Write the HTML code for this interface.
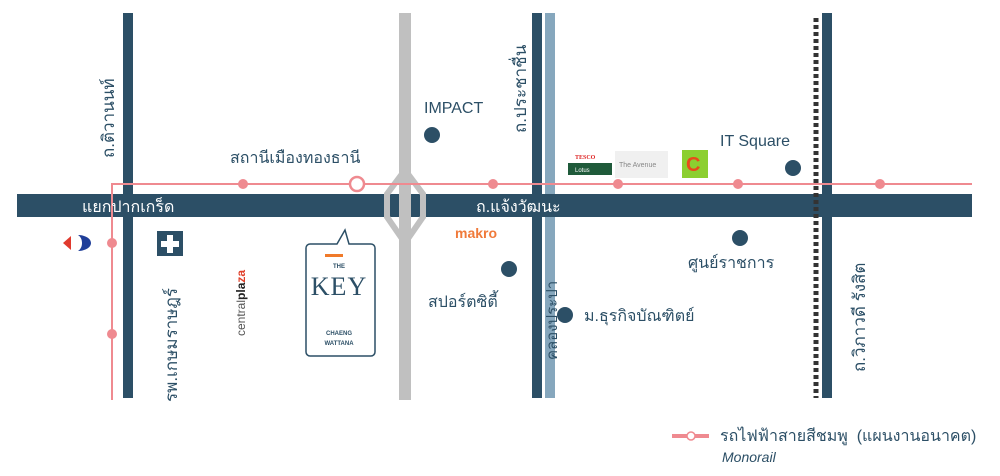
<!DOCTYPE html>
<html><head><meta charset="utf-8"><style>
body{margin:0;width:1000px;height:476px;background:#fff;overflow:hidden;position:relative;font-family:"Liberation Sans","Noto Sans CJK SC",sans-serif;color:#2c4f66}
.a{position:absolute}
.rot{position:absolute;transform:rotate(-90deg);transform-origin:left top;white-space:nowrap}
</style></head><body>
<svg class="a" style="left:0;top:0" width="1000" height="476">
<rect x="123" y="13" width="10" height="385" fill="#2c4f66"/>
<rect x="532" y="13" width="10" height="385" fill="#2c4f66"/>
<rect x="545" y="13" width="10" height="385" fill="#86a7bd"/>
<rect x="822" y="13" width="10" height="385" fill="#2c4f66"/>
<rect x="17" y="194" width="955" height="23" fill="#2c4f66"/>
<polygon points="405,170 423,194 423,217 405,243 387,217 387,194" fill="none" stroke="#c0c0c0" stroke-width="6"/>
<rect x="399" y="13" width="12" height="387" fill="#c0c0c0"/>
<line x1="816" y1="18" x2="816" y2="398" stroke="#333" stroke-width="5" stroke-dasharray="4,3"/>
<polyline points="112,400 112,184 972,184" fill="none" stroke="#ef8a90" stroke-width="2"/>
<g fill="#ef8a90"><circle cx="243" cy="184" r="5"/><circle cx="493" cy="184" r="5"/><circle cx="618" cy="184" r="5"/><circle cx="738" cy="184" r="5"/><circle cx="880" cy="184" r="5"/><circle cx="112" cy="243" r="5"/><circle cx="112" cy="334" r="5"/></g>
<circle cx="357" cy="184" r="7" fill="#fff" stroke="#ef8a90" stroke-width="2.5"/>
<g fill="#2c4f66"><circle cx="432" cy="135" r="8"/><circle cx="793" cy="168" r="8"/><circle cx="740" cy="238" r="8"/><circle cx="509" cy="269" r="8"/><circle cx="565" cy="315" r="8"/></g>
<rect x="157" y="231" width="26" height="25" fill="#2c4f66"/>
<path d="M167 235h6v6h6v6h-6v6h-6v-6h-6v-6h6z" fill="#fff"/>
<path d="M71 236l-8 7 8 7z" fill="#e03a2e"/><path d="M78 235c6 0 13 3 13 8s-7 8-13 8c3-2 4-5 4-8s-1-6-4-8z" fill="#1f3e99"/>
<path d="M310 244h27l8-14 4 14h22a4 4 0 0 1 4 4v104a4 4 0 0 1-4 4h-61a4 4 0 0 1-4-4v-104a4 4 0 0 1 4-4z" fill="#fff" stroke="#2c4f66" stroke-width="1.5"/>
<rect x="325" y="254" width="18" height="3" fill="#f07a2a"/>
<rect x="568" y="153" width="42" height="23" fill="#fff"/>
<text x="575" y="159" font-size="6" fill="#d22" font-weight="bold" font-family="Liberation Serif">TESCO</text>
<rect x="568" y="163" width="44" height="12" fill="#1f5a3a"/>
<text x="575" y="172" font-size="6" fill="#fff">Lotus</text>
<rect x="615" y="151" width="53" height="27" fill="#f0f0f0"/>
<text x="619" y="167" font-size="7" fill="#888">The Avenue</text>
<rect x="682" y="150" width="26" height="28" fill="#8ccf30"/>
<text x="686" y="171" font-size="20" fill="#e84a1a" font-weight="bold">C</text>
<line x1="672" y1="436" x2="709" y2="436" stroke="#ef8a90" stroke-width="4"/>
<circle cx="691" cy="436" r="4" fill="#fff" stroke="#ef8a90" stroke-width="1.5"/>
</svg>
<div class="a" style="left:309px;top:264px;width:60px;text-align:center;font-size:6px;font-weight:bold">THE</div>
<div class="a" style="left:305px;top:272px;width:68px;text-align:center;font-size:26px;font-family:'Liberation Serif',serif;letter-spacing:1px">KEY</div>
<div class="a" style="left:305px;top:329px;width:68px;text-align:center;font-size:6px;font-weight:bold;line-height:10px">CHAENG<br>WATTANA</div>
<div class="a" style="left:424px;top:100px;font-size:16px">IMPACT</div>
<div class="a" style="left:720px;top:133px;font-size:16px">IT Square</div>
<div class="a" style="left:230px;top:146px;font-size:16px">สถานีเมืองทองธานี</div>
<div class="a" style="left:82px;top:195px;font-size:16px;color:#fff">แยกปากเกร็ด</div>
<div class="a" style="left:476px;top:195px;font-size:16px;color:#fff">ถ.แจ้งวัฒนะ</div>
<div class="a" style="left:455px;top:225px;font-size:14px;color:#f07a3a;font-weight:bold">makro</div>
<div class="a" style="left:688px;top:251px;font-size:16px">ศูนย์ราชการ</div>
<div class="a" style="left:428px;top:290px;font-size:16px">สปอร์ตซิตี้</div>
<div class="a" style="left:584px;top:304px;font-size:16px">ม.ธุรกิจบัณฑิตย์</div>
<div class="rot" style="left:95px;top:158px;font-size:17px">ถ.ติวานนท์</div>
<div class="rot" style="left:507px;top:133px;font-size:17px">ถ.ประชาชื่น</div>
<div class="rot" style="left:846px;top:372px;font-size:17px">ถ.วิภาวดี รังสิต</div>
<div class="rot" style="left:158px;top:402px;font-size:17px">รพ.เกษมราษฎร์</div>
<div class="rot" style="left:540px;top:360px;font-size:15px">คลองประปา</div>
<div class="rot" style="left:234px;top:336px;font-size:12px;color:#555">central<b style="color:#222">pla</b><b style="color:#e0402a">za</b></div>
<div class="a" style="left:720px;top:424px;font-size:16px">รถไฟฟ้าสายสีชมพู &nbsp;(แผนงานอนาคต)</div>
<div class="a" style="left:722px;top:449px;font-size:14px;font-style:italic">Monorail</div>
</body></html>
